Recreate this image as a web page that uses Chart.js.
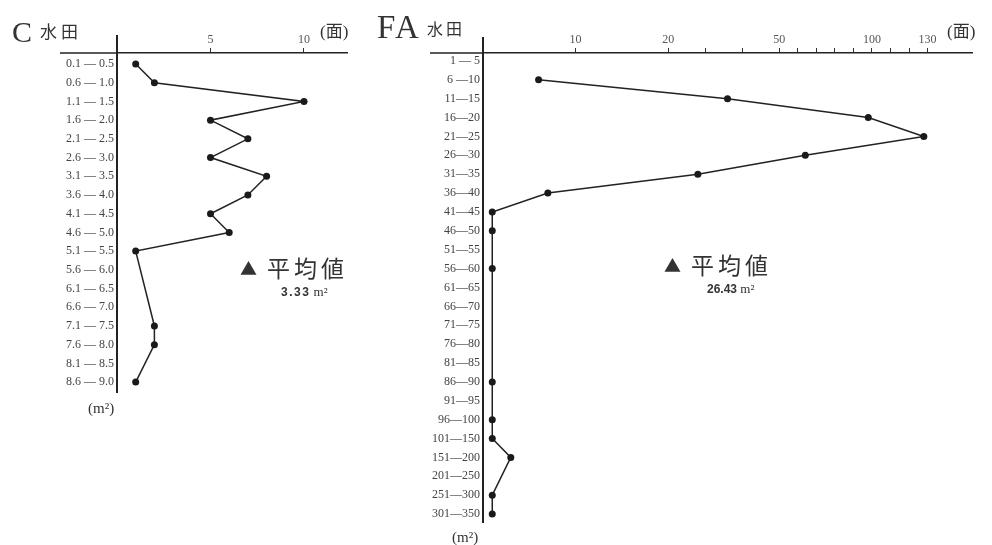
<!DOCTYPE html>
<html lang="ja">
<head>
<meta charset="utf-8">
<title>水田 面積別分布</title>
<script src="https://cdn.jsdelivr.net/npm/chart.js@4.4.1/dist/chart.umd.min.js"></script>
<style>
  body { margin: 0; background: #fff; width: 992px; height: 545px; position: relative; overflow: hidden; color: #333; font-family: "Liberation Serif", serif; }
  .box { position: absolute; }
  .lbl { position: absolute; white-space: nowrap; line-height: 1; }
  .jp { font-family: "Noto Sans CJK JP", sans-serif; }
  .num { font-family: "Liberation Sans", sans-serif; font-weight: bold; font-size: 12px; }
</style>
</head>
<body>
<div class="box" style="left:0;top:0;width:360px;height:420px"><canvas id="chartC"></canvas></div>
<div class="box" style="left:370px;top:0;width:622px;height:545px"><canvas id="chartFA"></canvas></div>

<div class="lbl" style="left:12px;top:17px;font-size:30px">C</div>
<div class="lbl jp" style="left:40px;top:22px;font-size:17px;letter-spacing:4px">水田</div>
<div class="lbl" style="left:320px;top:21px;font-size:17px">(<span class="jp">面</span>)</div>
<div class="lbl" style="left:88px;top:401px;font-size:15px">(m²)</div>
<div class="lbl jp" style="left:240px;top:256px;font-size:23px"><span style="font-size:17px;vertical-align:2px">▲</span><span style="margin-left:10px;letter-spacing:4px">平均値</span></div>
<div class="lbl" style="left:281px;top:285px;font-size:13px"><span class="num" style="letter-spacing:1.5px">3.33</span> m²</div>

<div class="lbl" style="left:377px;top:11px;font-size:33px;letter-spacing:2px">FA</div>
<div class="lbl jp" style="left:427px;top:20px;font-size:16px;letter-spacing:3px">水田</div>
<div class="lbl" style="left:947px;top:21px;font-size:17px">(<span class="jp">面</span>)</div>
<div class="lbl" style="left:452px;top:530px;font-size:15px">(m²)</div>
<div class="lbl jp" style="left:664px;top:253px;font-size:23px"><span style="font-size:17px;vertical-align:2px">▲</span><span style="margin-left:10px;letter-spacing:4px">平均値</span></div>
<div class="lbl" style="left:707px;top:282px;font-size:13px"><span class="num">26.43</span> m²</div>

<script>
// C水田: area classes (m²) and number of fields
const labelsC = ['0.1 — 0.5', '0.6 — 1.0', '1.1 — 1.5', '1.6 — 2.0', '2.1 — 2.5', '2.6 — 3.0',
  '3.1 — 3.5', '3.6 — 4.0', '4.1 — 4.5', '4.6 — 5.0', '5.1 — 5.5', '5.6 — 6.0',
  '6.1 — 6.5', '6.6 — 7.0', '7.1 — 7.5', '7.6 — 8.0', '8.1 — 8.5', '8.6 — 9.0'];
const countsC = [1, 2, 10, 5, 7, 5, 8, 7, 5, 6, 1, null, null, null, 2, 2, null, 1];
const ticksC = [5, 10];

// FA水田
const labelsFA = ['1 — 5', '6 —10', '11—15', '16—20', '21—25', '26—30', '31—35', '36—40',
  '41—45', '46—50', '51—55', '56—60', '61—65', '66—70', '71—75', '76—80', '81—85',
  '86—90', '91—95', '96—100', '101—150', '151—200', '201—250', '251—300', '301—350'];
const countsFA = [null, 6, 36, 98, 128, 64, 28, 7, 1, 1, null, 1, null, null, null, null, null,
  1, null, 1, 1, 3, null, 1, 1];
const ticksFA = [10, 20, 30, 40, 50, 60, 70, 80, 90, 100, 110, 120, 130];
const tickLabelsFA = [10, 20, 50, 100, 130];

// the FA axis is compressed in steps: [from, to, relative width per unit]
const faSegments = [[0, 20, 1], [20, 50, 0.4], [50, 154, 0.2]];

class BrokenScale extends Chart.LinearScale {
  _weight(v) {
    let w = 0;
    for (const [a, b, k] of faSegments) {
      if (v > a) w += (Math.min(v, b) - a) * k;
    }
    return w;
  }
  buildTicks() {
    return ticksFA.map(v => ({ value: v }));
  }
  getPixelForValue(value) {
    if (value === null || value === undefined || isNaN(value)) return NaN;
    const w0 = this._weight(this.min);
    return this.getPixelForDecimal((this._weight(value) - w0) / (this._weight(this.max) - w0));
  }
  getValueForPixel(pixel) {
    let w = this.getDecimalForPixel(pixel) * this._weight(this.max);
    for (const [a, b, k] of faSegments) {
      const seg = (b - a) * k;
      if (w <= seg) return a + w / k;
      w -= seg;
    }
    return this.max;
  }
}
BrokenScale.id = 'broken';
BrokenScale.defaults = Chart.LinearScale.defaults;
Chart.register(BrokenScale);

// short pieces of the axes that cross past the origin
const axisCross = {
  id: 'axisCross',
  afterDraw(chart, args, opts) {
    const { ctx, chartArea: a } = chart;
    ctx.save();
    ctx.strokeStyle = '#222';
    ctx.lineWidth = 1.5;
    ctx.beginPath();
    ctx.moveTo(a.left - opts.left, a.top);
    ctx.lineTo(a.left, a.top);
    ctx.stroke();
    ctx.lineWidth = 2;
    ctx.beginPath();
    ctx.moveTo(a.left, a.top - opts.up);
    ctx.lineTo(a.left, a.top);
    ctx.stroke();
    ctx.restore();
  }
};

function points(counts) {
  const pts = [];
  counts.forEach((c, i) => { if (c !== null) pts.push({ x: c, y: i }); });
  return pts;
}

function makeChart(id, labels, counts, xScale, yRange, padding, cross) {
  return new Chart(document.getElementById(id), {
    type: 'line',
    data: {
      datasets: [{
        data: points(counts),
        borderColor: '#222',
        borderWidth: 1.5,
        pointRadius: 3.5,
        pointBackgroundColor: '#1a1a1a',
        pointBorderWidth: 0,
        tension: 0
      }]
    },
    options: {
      responsive: true,
      maintainAspectRatio: false,
      animation: false,
      layout: { padding: padding },
      scales: {
        x: xScale,
        y: {
          type: 'linear',
          reverse: true,
          min: yRange[0],
          max: yRange[1],
          afterBuildTicks: s => { s.ticks = labels.map((_, i) => ({ value: i })); },
          afterFit: s => { s.width = 60; },
          ticks: {
            autoSkip: false,
            padding: 3,
            color: '#444',
            font: { family: 'Liberation Serif', size: 12 },
            callback: v => labels[v]
          },
          grid: { display: false, drawTicks: false },
          border: { color: '#222', width: 2 }
        }
      },
      plugins: {
        legend: { display: false },
        tooltip: { enabled: false },
        axisCross: cross
      }
    },
    plugins: [axisCross]
  });
}

const xTicksStyle = {
  autoSkip: false,
  maxRotation: 0,
  padding: 1,
  color: '#555',
  font: { family: 'Liberation Serif', size: 12 }
};

makeChart('chartC', labelsC, countsC, {
  type: 'linear',
  position: 'top',
  min: 0,
  max: 12.3,
  afterBuildTicks: s => { s.ticks = ticksC.map(v => ({ value: v })); },
  afterFit: s => { s.height = 20; },
  ticks: xTicksStyle,
  grid: { drawOnChartArea: false, tickLength: 5, color: '#333' },
  border: { color: '#222', width: 1.5 }
}, [-0.59, 17.53], { left: 57, top: 33, right: 13, bottom: 28 }, { left: 57, up: 18 });

makeChart('chartFA', labelsFA, countsFA, {
  type: 'broken',
  position: 'top',
  min: 0,
  max: 154,
  afterFit: s => { s.height = 20; },
  ticks: Object.assign({}, xTicksStyle, {
    callback: v => tickLabelsFA.includes(v) ? String(v) : ''
  }),
  grid: { drawOnChartArea: false, tickLength: 5, color: '#333' },
  border: { color: '#222', width: 1.5 }
}, [-0.42, 24.42], { left: 53, top: 33, right: 20, bottom: 23 }, { left: 53, up: 16 });
</script>
</body>
</html>
